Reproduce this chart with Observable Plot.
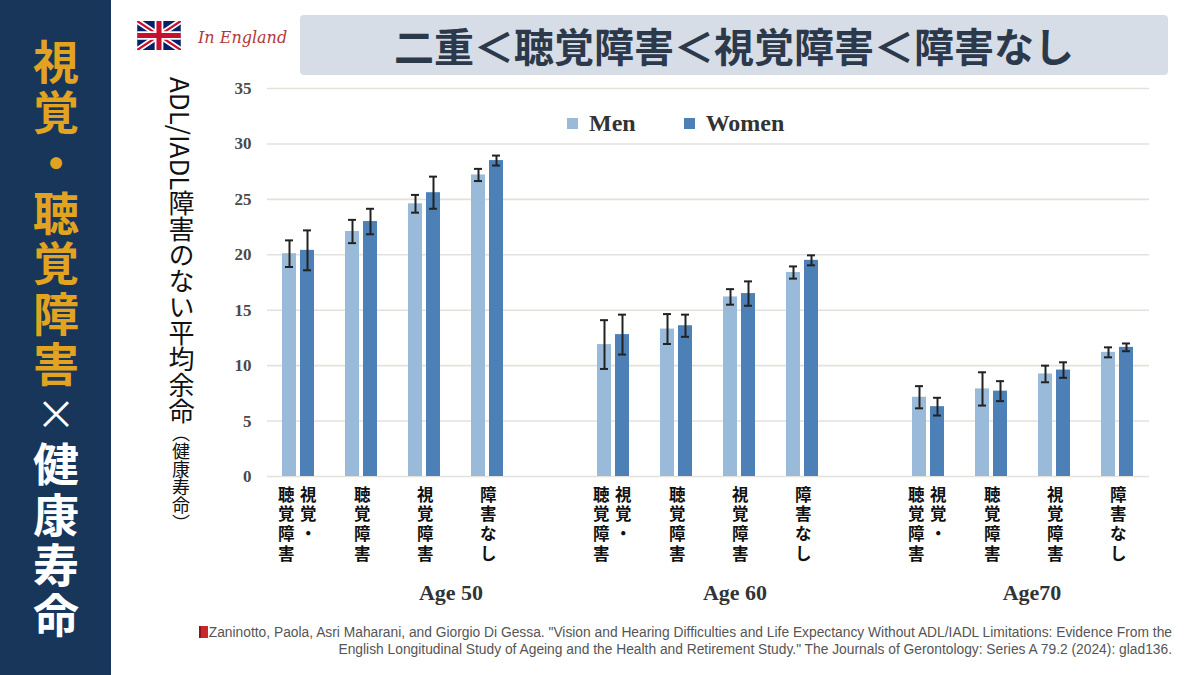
<!DOCTYPE html>
<html>
<head>
<meta charset="utf-8">
<script src="https://cdn.jsdelivr.net/npm/d3@7"></script>
<script src="https://cdn.jsdelivr.net/npm/@observablehq/plot@0.6"></script>
<style>
  @font-face { font-family: "JPTight"; src: local("Noto Sans CJK JP Bold"), local("NotoSansCJKjp-Bold"); font-weight: 700; ascent-override: 88%; descent-override: 12%; line-gap-override: 0%; }
  @font-face { font-family: "JPTight"; src: local("Noto Sans CJK JP Regular"), local("NotoSansCJKjp-Regular"), local("Noto Sans CJK JP"); font-weight: 400; ascent-override: 88%; descent-override: 12%; line-gap-override: 0%; }
  html, body { margin: 0; padding: 0; background: #fff; }
  #page { position: relative; width: 1200px; height: 675px; overflow: hidden; background: #fff; font-family: "Noto Sans CJK JP", "Noto Sans", sans-serif; }
  #side { position: absolute; left: 0; top: 0; width: 111px; height: 675px; background: #17365a; }
  #side div { position: absolute; left: 0; width: 111px; height: 50px; text-align: center; font-family: "JPTight", "Noto Sans CJK JP", sans-serif; font-weight: 700; font-size: 46px; line-height: 50px; }
  .gold { color: #e2a420; }
  .white { color: #ffffff; }
  #titlebox { position: absolute; left: 300px; top: 15px; width: 868px; height: 60px; background: #d6dde7; border-radius: 4px; display: flex; align-items: center; justify-content: center; }
  #titlebox span { font-size: 40px; font-weight: 700; color: #2c394b; letter-spacing: 0px; line-height: 1; }
  #flag { position: absolute; left: 137px; top: 21px; }
  #eng { position: absolute; left: 198px; top: 28px; font-family: "DejaVu Serif", serif; font-style: italic; font-size: 16px; color: #b23a3a; }
  #ylabel { position: absolute; left: 168px; top: 77px; writing-mode: vertical-rl; text-orientation: mixed; font-size: 26px; color: #111; line-height: 1; }
  #ylabel small { font-size: 18px; }
  #chart { position: absolute; left: 200px; top: 80px; }
  #legend { position: absolute; left: 567px; top: 110px; font-family: "Liberation Serif", serif; font-weight: 700; font-size: 24px; color: #333; display: flex; align-items: center; }
  #legend .sw { display: inline-block; width: 11px; height: 11px; margin-right: 11px; }
  #caption { position: absolute; right: 28px; top: 624px; text-align: right; font-family: "Liberation Sans Narrow", "Arial Narrow", "Liberation Sans", sans-serif; font-size: 13.8px; line-height: 17px; color: #555; }
  #caption .book { display: inline-block; width: 9px; height: 12px; background: #c8282a; border-left: 2px solid #8e1416; vertical-align: -1px; margin-right: 1px; box-sizing: border-box; }
</style>
</head>
<body>
<div id="page">
  <div id="side"></div>
  <svg id="flag" width="44" height="29" viewBox="0 0 60 40">
    <rect width="60" height="40" fill="#012169"/>
    <path d="M0,0 L60,40 M60,0 L0,40" stroke="#fff" stroke-width="8"/>
    <path d="M0,0 L60,40 M60,0 L0,40" stroke="#C8102E" stroke-width="3"/>
    <path d="M30,0 V40 M0,20 H60" stroke="#fff" stroke-width="12"/>
    <path d="M30,0 V40 M0,20 H60" stroke="#C8102E" stroke-width="7"/>
  </svg>
  <div id="eng">In England</div>
  <div id="titlebox"><span id="titletext"></span></div>
  <div id="ylabel"></div>
  <div id="chart"></div>
  <div id="legend"></div>
  <div id="caption"></div>
</div>
<script>
// ---------- data ----------
const sideTitleGold = ["視", "覚", "・", "聴", "覚", "障", "害"];
const sideTitleCross = "×";
const sideTitleWhite = ["健", "康", "寿", "命"];
const headline = "二重＜聴覚障害＜視覚障害＜障害なし";
const yAxisTitle = "ADL/IADL障害のない平均余命";
const yAxisTitleNote = "（健康寿命）";

const ages = ["Age 50", "Age 60", "Age70"];
const categories = ["視覚・聴覚障害", "聴覚障害", "視覚障害", "障害なし"];
// vertical label columns (right column first, as in vertical Japanese writing)
const categoryLabelColumns = [["視覚・", "聴覚障害"], ["聴覚障害"], ["視覚障害"], ["障害なし"]];
const sexes = ["Men", "Women"];

// values ordered Age 50 (4 categories), Age 60 (4), Age70 (4)
const menValues   = [20.1, 22.1, 24.6, 27.2, 11.9, 13.3, 16.2, 18.4, 7.15, 7.9, 9.25, 11.2];
const menErr      = [1.2, 1.05, 0.8, 0.55, 2.2, 1.35, 0.7, 0.55, 1.0, 1.5, 0.75, 0.45];
const womenValues = [20.4, 23.0, 25.6, 28.5, 12.8, 13.6, 16.5, 19.5, 6.3, 7.7, 9.6, 11.65];
const womenErr    = [1.8, 1.15, 1.45, 0.45, 1.8, 1.0, 1.1, 0.45, 0.8, 0.9, 0.7, 0.35];

const yTicks = [0, 5, 10, 15, 20, 25, 30, 35];
const colors = ["#9abada", "#4c80b7"];

const captionLine1 = "Zaninotto, Paola, Asri Maharani, and Giorgio Di Gessa. \"Vision and Hearing Difficulties and Life Expectancy Without ADL/IADL Limitations: Evidence From the";
const captionLine2 = "English Longitudinal Study of Ageing and the Health and Retirement Study.\" The Journals of Gerontology: Series A 79.2 (2024): glad136.";

// ---------- page text ----------
const side = document.getElementById("side");
let row = 0;
const addSide = (ch, cls, extra) => {
  const d = document.createElement("div");
  d.className = cls;
  d.textContent = ch;
  d.style.top = (37 + row * 50.3) + "px";
  if (extra) Object.assign(d.style, extra);
  side.appendChild(d);
  row++;
};
sideTitleGold.forEach(c => addSide(c, "gold"));
addSide(sideTitleCross, "white", {fontWeight: "400", fontSize: "40px"});
sideTitleWhite.forEach(c => addSide(c, "white"));

document.getElementById("titletext").textContent = headline;
document.getElementById("ylabel").innerHTML = yAxisTitle + "<small>" + yAxisTitleNote + "</small>";
document.getElementById("legend").innerHTML = sexes.map((s, i) =>
  `<span class="sw" style="background:${colors[i]}"></span><span style="margin-right:${i === 0 ? 48 : 0}px">${s}</span>`).join("");
document.getElementById("caption").innerHTML = `<span class="book"></span>${captionLine1}<br>${captionLine2}`;

// ---------- chart data ----------
const slots = [];
ages.forEach((a, i) => {
  categories.forEach(c => slots.push(a + "|" + c));
  if (i < ages.length - 1) slots.push("gap" + i);
});
const bars = [];
ages.forEach((a, i) => categories.forEach((c, j) => {
  const k = i * categories.length + j;
  bars.push({slot: a + "|" + c, sex: "Men", v: menValues[k], e: menErr[k]});
  bars.push({slot: a + "|" + c, sex: "Women", v: womenValues[k], e: womenErr[k]});
}));
const grid = slots.flatMap(s => yTicks.map(t => ({slot: s, y: t})));
const labelRows = ages.flatMap(a => categories.map((c, j) => ({slot: a + "|" + c, cols: categoryLabelColumns[j]})));
const vert = s => Array.from(s).join("\n");
const single = labelRows.filter(d => d.cols.length === 1);
const double = labelRows.filter(d => d.cols.length === 2);
const ageAnchor = a => [{slot: a + "|" + categories[2], text: a}];

const labelFont = {fontFamily: "JPTight, Noto Sans CJK JP, sans-serif", fontWeight: "bold", fontSize: 16.5, fill: "#111", lineHeight: 1.2, frameAnchor: "bottom", lineAnchor: "top", dy: 10};
const ageFont = {fontFamily: "Liberation Serif", fontWeight: "bold", fontSize: 22, fill: "#333", frameAnchor: "bottom", lineAnchor: "middle", dy: 116, text: "text", fx: "slot"};

const chart = Plot.plot({
  width: 960,
  height: 530,
  marginLeft: 66,
  marginRight: 10,
  marginTop: 8,
  marginBottom: 134,
  fx: {domain: slots, padding: 0, axis: null},
  x: {domain: sexes, paddingInner: 0.222, paddingOuter: 0.861, axis: null},
  y: {domain: [0, 35], axis: null},
  color: {domain: sexes, range: colors},
  style: {background: "transparent", overflow: "visible"},
  marks: [
    Plot.ruleY(grid, {fx: "slot", y: "y", stroke: "#e4e1dc", strokeWidth: 1.6}),
    Plot.axisY({ticks: yTicks, tickSize: 0, tickPadding: 16, label: null, fontFamily: "Liberation Serif", fontWeight: "bold", fontSize: 17, fill: "#4a4a4a"}),
    Plot.barY(bars, {fx: "slot", x: "sex", y: "v", fill: "sex"}),
    Plot.ruleX(bars, {fx: "slot", x: "sex", y1: d => d.v - d.e, y2: d => d.v + d.e, stroke: "#222", strokeWidth: 2}),
    Plot.tickY(bars, {fx: "slot", x: "sex", y: d => d.v + d.e, stroke: "#222", strokeWidth: 2, insetLeft: 3, insetRight: 3}),
    Plot.tickY(bars, {fx: "slot", x: "sex", y: d => d.v - d.e, stroke: "#222", strokeWidth: 2, insetLeft: 3, insetRight: 3}),
    Plot.text(single, {fx: "slot", text: d => vert(d.cols[0]), ...labelFont}),
    Plot.text(double, {fx: "slot", text: d => vert(d.cols[0]), ...labelFont, dx: 9}),
    Plot.text(double, {fx: "slot", text: d => vert(d.cols[1]), ...labelFont, dx: -13}),
    Plot.text(ageAnchor(ages[0]), {...ageFont, dx: 26}),
    Plot.text(ageAnchor(ages[1]), {...ageFont, dx: -5}),
    Plot.text(ageAnchor(ages[2]), {...ageFont, dx: -23})
  ]
});
document.getElementById("chart").appendChild(chart);
</script>
</body>
</html>
